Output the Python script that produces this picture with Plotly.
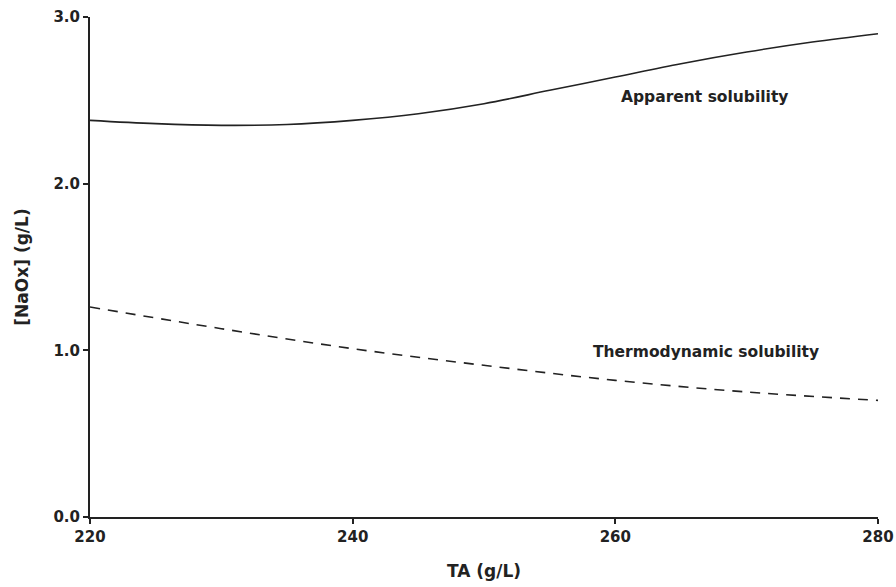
import plotly.graph_objects as go

ta = [220, 225, 230, 235, 240, 245, 250, 255, 260, 265, 270, 275, 280]
apparent = [2.38, 2.36, 2.35, 2.355, 2.38, 2.42, 2.48, 2.56, 2.64, 2.72, 2.79, 2.85, 2.90]
ta_thermo = [220, 230, 240, 250, 260, 270, 280]
thermo = [1.26, 1.13, 1.01, 0.91, 0.82, 0.75, 0.70]

y_ticks = [0, 1, 2, 3]
x_ticks = [220, 240, 260, 280]

FONT = "DejaVu Sans"
INK = "#222"

fig = go.Figure()
fig.add_trace(go.Scatter(x=ta, y=apparent, mode="lines",
                         line=dict(color=INK, width=1.6, shape="spline"),
                         showlegend=False))
fig.add_trace(go.Scatter(x=ta_thermo, y=thermo, mode="lines",
                         line=dict(color=INK, width=1.6, shape="spline", dash="10px,8px"),
                         showlegend=False))

fig.add_annotation(x=266.8, y=2.52, text="Apparent solubility", showarrow=False,
                   font=dict(family=FONT, size=15.5, color=INK, weight="bold"))
fig.add_annotation(x=266.9, y=0.99, text="Thermodynamic solubility", showarrow=False,
                   font=dict(family=FONT, size=15.5, color=INK, weight="bold"))

fig.update_xaxes(range=[220, 280], tickvals=x_ticks, showline=True, linecolor=INK,
                 linewidth=2, ticks="outside", ticklen=5, tickwidth=2, tickcolor=INK,
                 showgrid=False, zeroline=False, automargin=False,
                 tickfont=dict(family=FONT, size=15, color=INK, weight="bold"),
                 title=dict(text="TA (g/L)", font=dict(family=FONT, size=17, color=INK, weight="bold"),
                            standoff=20))
fig.update_yaxes(range=[0, 3], tickvals=y_ticks, tickformat=".1f", showline=True, linecolor=INK,
                 linewidth=2, ticks="outside", ticklen=5, tickwidth=2, tickcolor=INK,
                 showgrid=False, zeroline=False, automargin=False,
                 tickfont=dict(family=FONT, size=15, color=INK, weight="bold"),
                 title=dict(text="[NaOx] (g/L)", font=dict(family=FONT, size=17, color=INK, weight="bold"),
                            standoff=20))

fig.update_layout(width=896, height=587, margin=dict(l=90, r=18, t=17, b=70),
                  plot_bgcolor="white", paper_bgcolor="white")

fig.write_html("out.html", config={"displayModeBar": False},
               post_script="document.body.style.margin='0';")
